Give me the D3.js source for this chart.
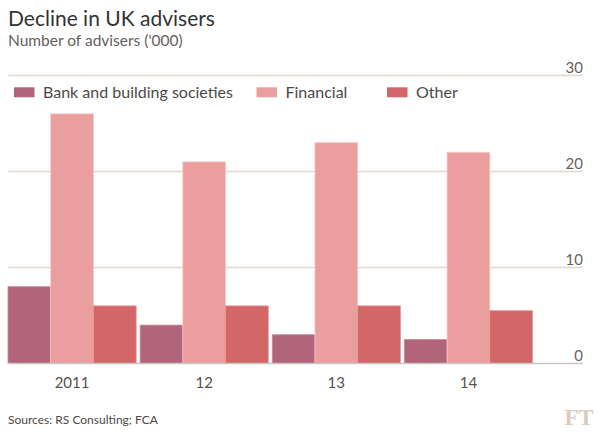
<!DOCTYPE html>
<html>
<head>
<meta charset="utf-8">
<script src="https://cdn.jsdelivr.net/npm/d3@7"></script>
<style>
  html, body { margin: 0; padding: 0; background: #fff; }
  svg text { font-family: Lato, "Noto Sans", sans-serif; }
</style>
</head>
<body>
<svg id="chart" width="600" height="437"></svg>
<script>
const years = ["2011", "12", "13", "14"];
const seriesNames = ["Bank and building societies", "Financial", "Other"];
const bankValues = [8, 4, 3, 2.5];
const financialValues = [26, 21, 23, 22];
const otherValues = [6, 6, 6, 5.5];
const yTicks = [0, 10, 20, 30];
const colors = ["#b0657a", "#eb9e9e", "#d36767"];
const strokeColors = ["#c98a9b", "#f6c6c6", "#e59595"];

const seriesValues = [bankValues, financialValues, otherValues];
const data = years.map((yr, i) => ({
  year: yr,
  values: seriesNames.map((s, j) => ({ key: s, idx: j, value: seriesValues[j][i] }))
}));

const svg = d3.select("#chart");

const x0 = d3.scaleBand().domain(years).range([8, 532.5]).paddingInner(0.03).paddingOuter(0);
const x1 = d3.scaleBand().domain(seriesNames).range([0, x0.bandwidth()]).padding(0);
const y = d3.scaleLinear().domain([0, 30]).range([363.5, 75.5]);

// Title & subtitle
svg.append("text").attr("x", 8).attr("y", 26)
  .attr("font-size", 21).attr("fill", "#333333").text("Decline in UK advisers");
svg.append("text").attr("x", 8).attr("y", 46)
  .attr("font-size", 15.5).attr("fill", "#66605c").text("Number of advisers ('000)");

// Gridlines
const grid = svg.append("g");
grid.selectAll("line").data(yTicks.filter(t => t > 0)).join("line")
  .attr("x1", 8).attr("x2", 583)
  .attr("y1", d => y(d)).attr("y2", d => y(d))
  .attr("stroke", "#e0d8cd").attr("stroke-width", 1.5);

// Tick labels
svg.append("g").selectAll("text").data(yTicks).join("text")
  .attr("x", 583).attr("y", d => y(d) - 3)
  .attr("text-anchor", "end").attr("font-size", 15).attr("fill", "#66605c")
  .text(d => d);

// Bars
const groups = svg.append("g").selectAll("g").data(data).join("g")
  .attr("transform", d => `translate(${x0(d.year)},0)`);
groups.selectAll("rect").data(d => d.values).join("rect")
  .attr("x", d => x1(d.key)).attr("width", x1.bandwidth())
  .attr("y", d => y(d.value)).attr("height", d => y(0) - y(d.value))
  .attr("fill", d => colors[d.idx])
  .attr("stroke", d => strokeColors[d.idx]).attr("stroke-width", 0.8);

// Baseline
svg.append("line").attr("x1", 8).attr("x2", 583)
  .attr("y1", y(0)).attr("y2", y(0))
  .attr("stroke", "#c8c6c2").attr("stroke-width", 1.5);

// X labels
svg.append("g").selectAll("text").data(years).join("text")
  .attr("x", d => x0(d) + x0.bandwidth() / 2).attr("y", 388)
  .attr("text-anchor", "middle").attr("font-size", 15).attr("fill", "#555049")
  .text(d => d);

// Legend
const legendX = [14, 256.5, 387];
const legend = svg.append("g").selectAll("g").data(seriesNames).join("g")
  .attr("transform", (d, i) => `translate(${legendX[i]},87.3)`);
legend.append("rect").attr("width", 20.5).attr("height", 10)
  .attr("fill", (d, i) => colors[i]);
legend.append("text").attr("x", 29).attr("y", 10.3)
  .attr("font-size", 16).attr("fill", "#4d4845").text(d => d);

// Footer
svg.append("text").attr("x", 8).attr("y", 424)
  .attr("font-size", 12).attr("fill", "#4d4845").text("Sources: RS Consulting; FCA");
svg.append("text").attr("x", 593).attr("y", 425)
  .attr("text-anchor", "end").attr("font-size", 23)
  .style("font-family", "'Liberation Serif', 'DejaVu Serif', serif")
  .style("font-weight", "bold")
  .attr("fill", "#dccbbb").attr("letter-spacing", -0.5).text("FT");
</script>
</body>
</html>
